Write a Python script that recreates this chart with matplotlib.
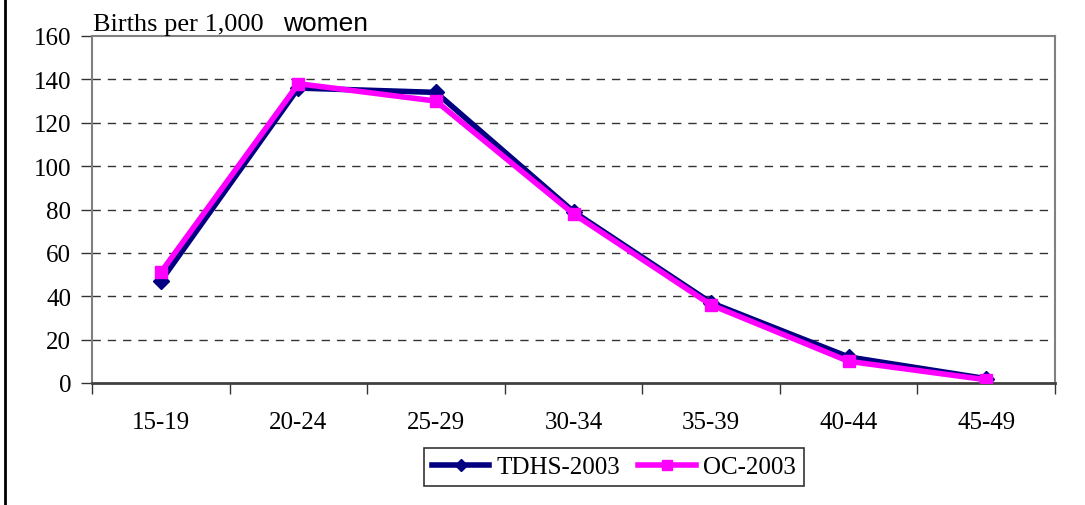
import matplotlib
matplotlib.use("Agg")
import matplotlib.pyplot as plt
from matplotlib.lines import Line2D
import numpy as np

categories = ["15-19", "20-24", "25-29", "30-34", "35-39", "40-44", "45-49"]
tdhs_2003 = [47, 136, 134, 79, 37, 12, 2]
oc_2003 = [51, 138, 130, 78, 36, 10, 1.5]
yticks = [0, 20, 40, 60, 80, 100, 120, 140, 160]

serif = ["Liberation Serif", "DejaVu Serif"]
FS = 18

fig = plt.figure(figsize=(10.85, 5.06), dpi=100)
W, H = 1085, 506
ax = fig.add_axes([92 / W, 1 - 384 / H, (1055 - 92) / W, (384 - 37) / H])

x = np.arange(len(categories))
ax.plot(x, tdhs_2003, color="#000080", lw=4, marker="D", ms=8, label="TDHS-2003", zorder=3)
ax.plot(x, oc_2003, color="#ff00ff", lw=4, marker="s", ms=9, label="OC-2003", zorder=4)

ax.set_xlim(-0.5, len(categories) - 0.5)
ax.set_ylim(0, 160)
ax.set_yticks(yticks)
ax.set_yticklabels([str(v) for v in yticks], fontfamily=serif, fontsize=FS)
ax.set_xticks(x)
ax.set_xticklabels(categories, fontfamily=serif, fontsize=FS)
ax.set_xticks(np.arange(len(categories) + 1) - 0.5, minor=True)
ax.tick_params(axis="x", which="major", length=0, pad=20)
ax.tick_params(axis="x", which="minor", length=8, width=1, color="#333333", direction="out")
ax.tick_params(axis="y", length=8, width=1, color="#333333", pad=7)

for yv in yticks[1:-1]:
    ax.axhline(yv, color="#333333", lw=1, ls=(0, (6, 5)), zorder=1)

for s in ["left", "top", "right"]:
    ax.spines[s].set_color("#808080")
    ax.spines[s].set_linewidth(1.5)
ax.spines["bottom"].set_color("#404040")
ax.spines["bottom"].set_linewidth(2)

fig.text(93 / W, 1 - 31 / H, "Births per 1,000", fontfamily=serif, fontsize=19, va="baseline")
fig.text(283 / W, 1 - 31 / H, "women", fontfamily=["Liberation Sans", "DejaVu Sans"], fontsize=19, va="baseline")

leg = ax.legend(loc="center", bbox_to_anchor=((614 - 92) / (1055 - 92), -(468 - 384) / (384 - 37)),
                ncol=2, frameon=True, fancybox=False, prop={"family": serif, "size": FS},
                handlelength=2.3, columnspacing=0.7, handletextpad=0.3, borderpad=0.3,
                edgecolor="black", markerscale=0.8)
leg.get_frame().set_linewidth(1.2)

fig.add_artist(Line2D([5 / W, 5 / W], [0, 1], color="black", lw=2))

fig.savefig("out.png", dpi=100)
